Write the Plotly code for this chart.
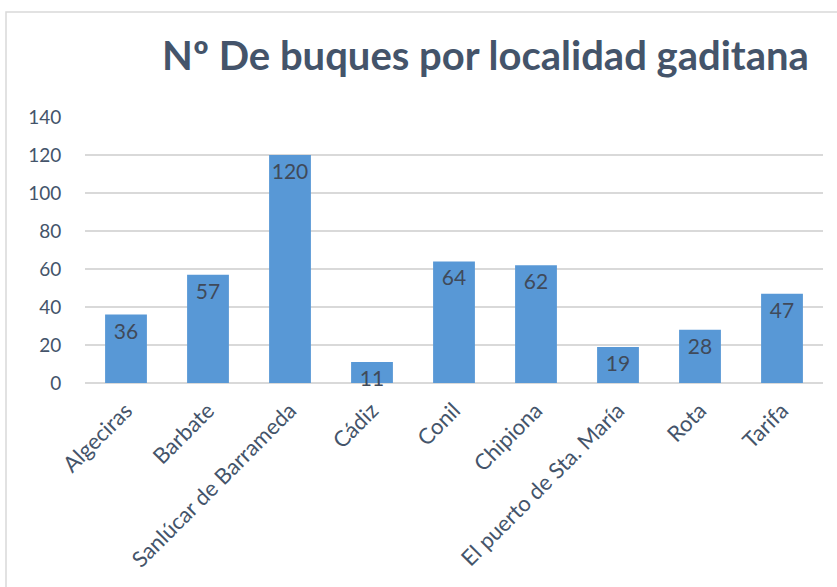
import plotly.graph_objects as go

categories = ["Algeciras", "Barbate", "Sanlúcar de Barrameda", "Cádiz", "Conil",
              "Chipiona", "El puerto de Sta. María", "Rota", "Tarifa"]
values = [36, 57, 120, 11, 64, 62, 19, 28, 47]
y_ticks = [0, 20, 40, 60, 80, 100, 120, 140]
title_text = "Nº De buques por localidad gaditana"

W, H = 837, 587
L, R, T, B = 85, 14, 117, 204

fig = go.Figure()
fig.add_trace(go.Bar(
    x=categories, y=values,
    marker=dict(color="#5898D6", line=dict(width=0)),
    width=0.51,
    text=[str(v) for v in values],
    textposition="inside",
    insidetextanchor="end",
    textangle=0,
    constraintext="none",
    textfont=dict(family="Lato", size=21, color="#404A5A"),
    cliponaxis=False,
))

pw = W - L - R
ph = H - T - B
base = H - B
fig.add_shape(type="rect", xref="paper", yref="paper",
              x0=(6 - L) / pw, x1=(W + 20 - L) / pw,
              y0=-(H + 20 - base) / ph, y1=(base - 12) / ph,
              line=dict(color="#D9D9D9", width=1.5), fillcolor="rgba(0,0,0,0)", layer="below")

fig.update_layout(
    width=W, height=H,
    margin=dict(l=L, r=R, t=T, b=B, pad=0, autoexpand=False),
    paper_bgcolor="white", plot_bgcolor="white",
    showlegend=False,
    bargap=0.49,
    title=dict(text="<b>" + title_text + "</b>", x=485.5 / W, xanchor="center",
               y=1 - 56 / H, yanchor="middle",
               font=dict(family="Lato", size=40, color="#44546A")),
    xaxis=dict(tickangle=-45, tickfont=dict(family="Lato", size=22, color="#44546A"),
               showline=False, showgrid=False, ticks="outside", ticklen=5,
               tickcolor="rgba(0,0,0,0)", automargin=False),
    yaxis=dict(range=[0, 140], tickvals=y_ticks, showgrid=True, gridcolor="#D9D9D9",
               gridwidth=1.5, zeroline=True, zerolinecolor="#D9D9D9", zerolinewidth=1.5,
               tickfont=dict(family="Lato", size=19, color="#44546A"),
               ticks="outside", ticklen=19, tickcolor="rgba(0,0,0,0)", showline=False,
               automargin=False),
)

fig.write_html("out.html",
               config={"displayModeBar": False},
               post_script="document.body.style.margin='0';document.body.style.overflow='hidden';")
